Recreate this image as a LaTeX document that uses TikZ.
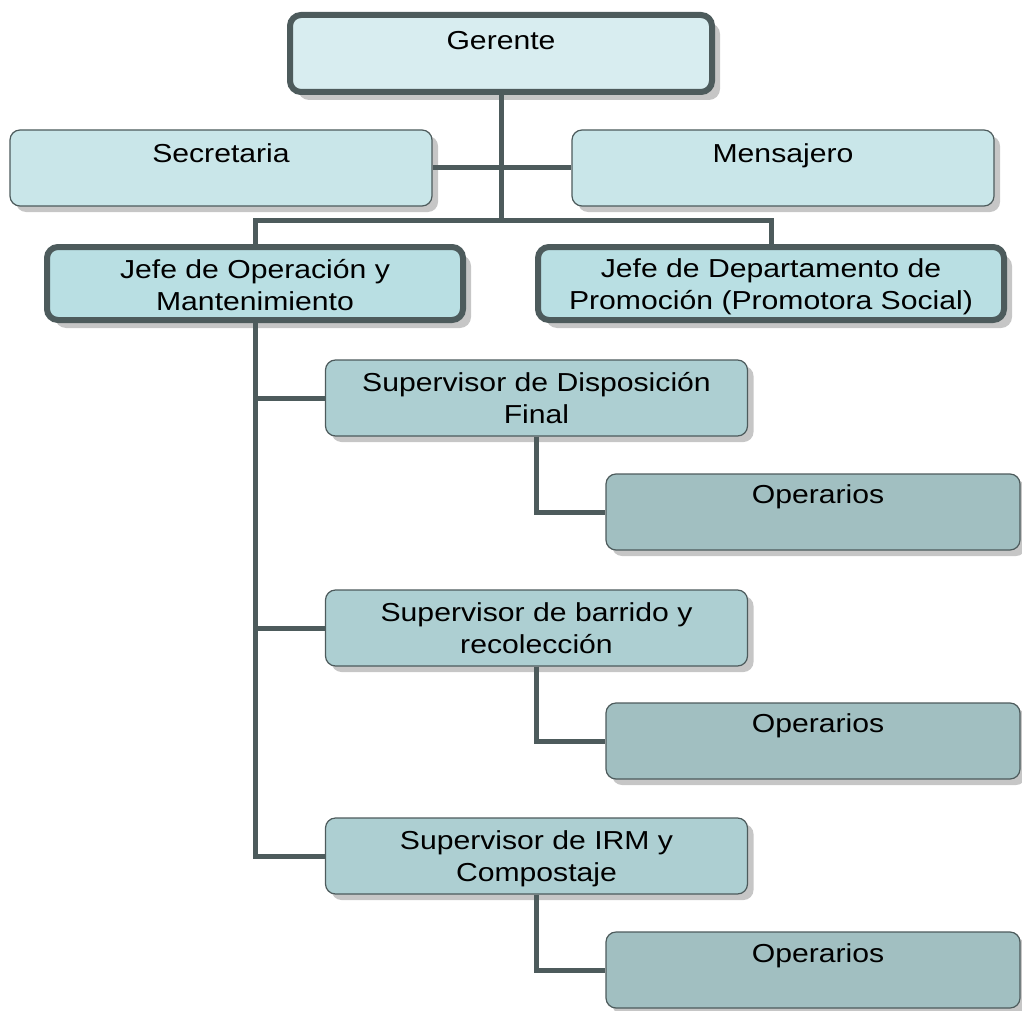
\documentclass[tikz,border=0pt]{standalone}
\usepackage{fontspec}
\setmainfont{Liberation Sans}[FakeStretch=1.16]
\usetikzlibrary{shadows}
\definecolor{lineC}{HTML}{4D5B5C}
\definecolor{fG}{HTML}{D8EDF0}
\definecolor{fS}{HTML}{C9E6E9}
\definecolor{fJ}{HTML}{B9DFE3}
\definecolor{fV}{HTML}{ADCFD2}
\definecolor{fO}{HTML}{A1BFC1}
\definecolor{shC}{HTML}{C6C6C6}
\newcommand\twol[2]{\vtop{\halign{\hfil##\hfil\cr#1\cr#2\cr}}}
\begin{document}
\begin{tikzpicture}[x=1pt,y=-1pt,
  box/.style={rectangle, rounded corners=10pt, draw=lineC, line width=1.2pt, inner sep=0pt,
    drop shadow={shadow xshift=6pt, shadow yshift=-6pt, fill=shC, opacity=1}},
  tbox/.style={rectangle, rounded corners=11pt, draw=lineC, line width=6pt, inner sep=0pt,
    drop shadow={shadow xshift=8pt, shadow yshift=-8pt, fill=shC, opacity=1}},
  wide/.style={minimum width=422pt, minimum height=76pt},
  oper/.style={box, fill=fO, minimum width=414pt, minimum height=76pt},
  sup/.style={box, fill=fV, wide},
  lbl/.style={inner sep=0pt, anchor=base, font=\fontsize{26}{32}\selectfont},
  conn/.style={draw=lineC, line width=5pt}]
\useasboundingbox (0,0) rectangle (1022,1011);
\clip (0,0) rectangle (1022,1011);

% boxes
\node[tbox, fill=fG, minimum width=422pt, minimum height=77pt] (g) at (501,53.5) {};
\node[box, fill=fS, wide] (s) at (221,168) {};
\node[box, fill=fS, wide] (m) at (783,168) {};
\node[tbox, fill=fJ, minimum width=416pt, minimum height=73pt] (jo) at (255,283.5) {};
\node[tbox, fill=fJ, minimum width=466pt, minimum height=73pt] (jd) at (771,283.5) {};
\node[sup] (sf) at (536.5,398) {};
\node[sup] (sb) at (536.5,628) {};
\node[sup] (si) at (536.5,856) {};
\node[oper] (o1) at (813,512) {};
\node[oper] (o2) at (813,741) {};
\node[oper] (o3) at (813,970) {};

% connectors
\coordinate (hub) at (501,220);
\draw[conn] (g.south) -- (hub);
\draw[conn] (s.east) -- (m.west);
\draw[conn] (jo.north) |- (hub) -| (jd.north);
\draw[conn] (jo.south) |- (sf.west);
\draw[conn] (jo.south) |- (sb.west);
\draw[conn] (jo.south) |- (si.west);
\draw[conn] (sf.south) |- (o1.west);
\draw[conn] (sb.south) |- (o2.west);
\draw[conn] (si.south) |- (o3.west);

% labels
\node[lbl] (gl) at (501,50) {Gerente};
\node[lbl] (sl) at (221,163) {Secretaria};
\node[lbl] (ml) at (783,163) {Mensajero};
\node[lbl] (jol) at (255,278) {\twol{Jefe de Operación y}{Mantenimiento}};
\node[lbl] (jdl) at (771,277) {\twol{Jefe de Departamento de}{Promoción (Promotora Social)}};
\node[lbl] (sfl) at (536.5,391) {\twol{Supervisor de Disposición}{Final}};
\node[lbl] (sbl) at (536.5,621) {\twol{Supervisor de barrido y}{recolección}};
\node[lbl] (sil) at (536.5,849) {\twol{Supervisor de IRM y}{Compostaje}};
\node[lbl] (o1l) at (818,503) {Operarios};
\node[lbl] (o2l) at (818,732) {Operarios};
\node[lbl] (o3l) at (818,962) {Operarios};
\end{tikzpicture}
\end{document}
